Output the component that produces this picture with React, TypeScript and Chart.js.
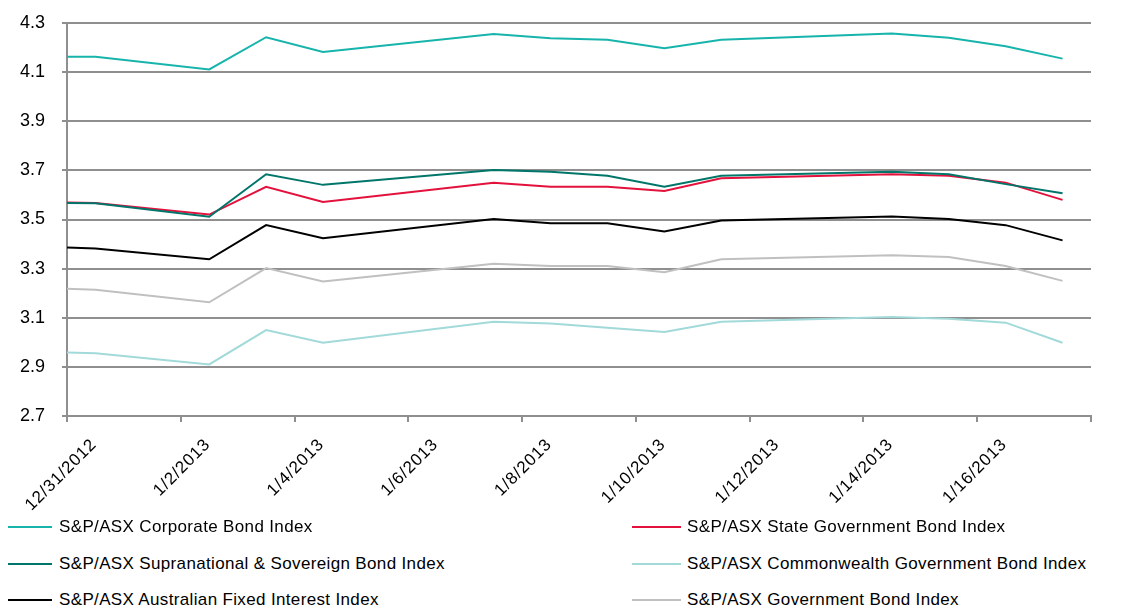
import React, { useEffect, useRef } from 'react';
import { Chart, registerables } from 'chart.js';

Chart.register(...registerables);

// Day offsets from 12/31/2012 (points sit in the middle of each trading day)
const dayOffsets = [0, 0.5, 2.5, 3.5, 4.5, 7.5, 8.5, 9.5, 10.5, 11.5, 14.5, 15.5, 16.5, 17.5];

const xTickDays = [0, 2, 4, 6, 8, 10, 12, 14, 16, 18];
const xTickLabels = ['12/31/2012', '1/2/2013', '1/4/2013', '1/6/2013', '1/8/2013', '1/10/2013', '1/12/2013', '1/14/2013', '1/16/2013', ''];
const yTicks = [2.7, 2.9, 3.1, 3.3, 3.5, 3.7, 3.9, 4.1, 4.3];

const corporate = [4.163, 4.163, 4.111, 4.242, 4.182, 4.255, 4.238, 4.232, 4.197, 4.232, 4.257, 4.24, 4.205, 4.155];
const stateGov = [3.569, 3.567, 3.52, 3.633, 3.571, 3.65, 3.633, 3.633, 3.616, 3.668, 3.684, 3.678, 3.65, 3.58];
const supranational = [3.567, 3.566, 3.511, 3.684, 3.641, 3.702, 3.694, 3.678, 3.633, 3.678, 3.694, 3.684, 3.644, 3.607];
const commonwealth = [2.959, 2.955, 2.91, 3.05, 2.998, 3.084, 3.077, 3.059, 3.042, 3.084, 3.103, 3.096, 3.08, 2.998];
const fixedInterest = [3.386, 3.382, 3.338, 3.477, 3.424, 3.502, 3.485, 3.485, 3.451, 3.496, 3.512, 3.502, 3.477, 3.415];
const government = [3.218, 3.214, 3.163, 3.302, 3.248, 3.32, 3.311, 3.311, 3.285, 3.338, 3.354, 3.347, 3.311, 3.25];

const seriesNames = [
  'S&P/ASX Corporate Bond Index',
  'S&P/ASX State Government Bond Index',
  'S&P/ASX Supranational & Sovereign Bond Index',
  'S&P/ASX Commonwealth Government Bond Index',
  'S&P/ASX Australian Fixed Interest Index',
  'S&P/ASX Government Bond Index',
];
const seriesValues = [corporate, stateGov, supranational, commonwealth, fixedInterest, government];
const seriesColors = ['#17B4AC', '#E3113C', '#00766A', '#A2D9D9', '#000000', '#C0C0C0'];

const FONT = '"Liberation Sans", Arial, Helvetica, sans-serif';

// Rotated date labels drawn along the x scale, anchored at their right end
const xLabelPlugin = {
  id: 'xDateLabels',
  afterDraw(chart: any) {
    const scale = chart.scales.x;
    const ctx = chart.ctx;
    ctx.save();
    ctx.font = `17px ${FONT}`;
    (ctx as any).letterSpacing = '0.8px';
    ctx.fillStyle = '#000';
    ctx.textAlign = 'left';
    ctx.textBaseline = 'middle';
    xTickDays.forEach((d, i) => {
      const label = xTickLabels[i];
      if (!label) return;
      const px = scale.getPixelForValue(d);
      const w = ctx.measureText(label).width;
      ctx.save();
      ctx.translate(px + 27, scale.top + 26);
      ctx.rotate(-Math.PI / 4);
      ctx.fillText(label, -w, 0);
      ctx.restore();
    });
    ctx.restore();
  },
};

export default function App() {
  const canvasRef = useRef<HTMLCanvasElement | null>(null);

  useEffect(() => {
    if (!canvasRef.current) return;
    const datasets = seriesNames.map((name, i) => ({
      label: name,
      data: seriesValues[i].map((v, j) => ({ x: dayOffsets[j], y: v })),
      borderColor: seriesColors[i],
      backgroundColor: seriesColors[i],
      borderWidth: 2,
      pointRadius: 0,
      tension: 0,
      fill: false,
    }));
    const order = [5, 3, 0, 4, 1, 2];
    datasets.forEach((d: any, i) => (d.order = order[i]));

    const chart = new Chart(canvasRef.current, {
      type: 'line',
      data: { datasets },
      plugins: [xLabelPlugin],
      options: {
        animation: false,
        responsive: false,
        layout: { padding: { top: 23, right: 53, left: 0, bottom: 0 } },
        plugins: {
          legend: { display: false },
          tooltip: { enabled: false },
        },
        scales: {
          x: {
            type: 'linear',
            min: 0,
            max: 18,
            afterBuildTicks: (scale: any) => {
              scale.ticks = xTickDays.map((v) => ({ value: v }));
            },
            afterFit: (scale: any) => {
              scale.height = 104;
              scale.paddingLeft = 0;
              scale.paddingRight = 0;
            },
            ticks: {
              display: false,
            },
            grid: {
              drawOnChartArea: false,
              drawTicks: true,
              tickLength: 6,
              color: '#8f8f8f',
              lineWidth: 2,
            },
            border: { color: '#8f8f8f', width: 2 },
          },
          y: {
            type: 'linear',
            min: 2.7,
            max: 4.3,
            afterBuildTicks: (scale: any) => {
              scale.ticks = yTicks.map((v) => ({ value: v }));
            },
            afterFit: (scale: any) => {
              scale.width = 67;
              scale.paddingTop = 0;
              scale.paddingBottom = 0;
            },
            ticks: {
              padding: 17,
              color: '#000',
              font: { family: FONT, size: 18 },
              callback: (v: any) => Number(v).toFixed(1),
            },
            grid: {
              color: '#8f8f8f',
              lineWidth: 2,
              drawTicks: true,
              tickLength: 5,
            },
            border: { color: '#8f8f8f', width: 2 },
          },
        },
      },
    } as any);
    return () => chart.destroy();
  }, []);

  const rowCenters = [527, 564, 600];
  const colLeft = [8, 632];
  const colLine = [44, 49];
  const colGap = [7, 6];

  return (
    <div style={{ position: 'absolute', left: 0, top: 0, width: 1144, height: 607, background: '#fff', overflow: 'hidden' }}>
      <canvas ref={canvasRef} width={1144} height={520} style={{ position: 'absolute', left: 0, top: 0, width: 1144, height: 520 }} />
      {seriesNames.map((name, i) => {
        const col = i % 2;
        const row = Math.floor(i / 2);
        return (
          <div
            key={name}
            style={{
              position: 'absolute',
              left: colLeft[col],
              top: rowCenters[row] - 12,
              height: 24,
              display: 'flex',
              alignItems: 'center',
              whiteSpace: 'nowrap',
            }}
          >
            <div style={{ width: colLine[col], height: 2, background: seriesColors[i] }} />
            <span
              style={{
                marginLeft: colGap[col],
                fontFamily: FONT,
                fontSize: 17,
                letterSpacing: '0.35px',
                color: '#000',
                lineHeight: '24px',
              }}
            >
              {name}
            </span>
          </div>
        );
      })}
    </div>
  );
}
